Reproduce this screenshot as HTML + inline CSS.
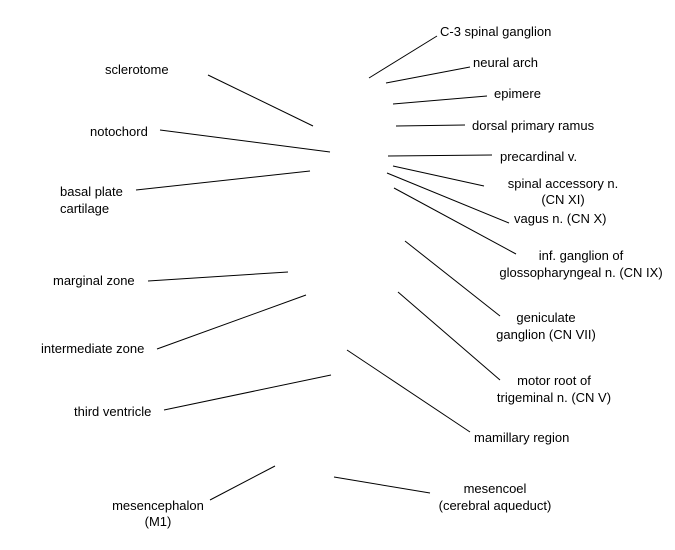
<!DOCTYPE html>
<html><head><meta charset="utf-8"><style>
html,body{margin:0;padding:0;background:#fff;}
svg{display:block;}
text{font-family:"Liberation Sans",Arial,sans-serif;font-size:13px;fill:#000;}
line{stroke:#000;stroke-width:1;}
</style></head><body>
<svg width="675" height="550" viewBox="0 0 675 550" xmlns="http://www.w3.org/2000/svg">
<line x1="437" y1="36" x2="369" y2="78"/>
<line x1="470" y1="67" x2="386" y2="83"/>
<line x1="487" y1="96" x2="393" y2="104"/>
<line x1="465" y1="125" x2="396" y2="126"/>
<line x1="492" y1="155" x2="388" y2="156"/>
<line x1="484" y1="186" x2="393" y2="166"/>
<line x1="509" y1="223" x2="387" y2="173"/>
<line x1="516" y1="254" x2="394" y2="188"/>
<line x1="500" y1="316" x2="405" y2="241"/>
<line x1="500" y1="380" x2="398" y2="292"/>
<line x1="470" y1="432" x2="347" y2="350"/>
<line x1="430" y1="493" x2="334" y2="477"/>
<line x1="208" y1="75" x2="313" y2="126"/>
<line x1="160" y1="130" x2="330" y2="152"/>
<line x1="136" y1="190" x2="310" y2="171"/>
<line x1="148" y1="281" x2="288" y2="272"/>
<line x1="157" y1="349" x2="306" y2="295"/>
<line x1="164" y1="410" x2="331" y2="375"/>
<line x1="210" y1="500" x2="275" y2="466"/>

<text x="440" y="36">C-3 spinal ganglion</text>
<text x="473" y="67">neural arch</text>
<text x="494" y="98">epimere</text>
<text x="472" y="130">dorsal primary ramus</text>
<text x="500" y="161">precardinal v.</text>
<text x="563" y="188" text-anchor="middle">spinal accessory n.</text>
<text x="563" y="204" text-anchor="middle">(CN XI)</text>
<text x="514" y="223">vagus n. (CN X)</text>
<text x="581" y="260" text-anchor="middle">inf. ganglion of</text>
<text x="581" y="277" text-anchor="middle">glossopharyngeal n. (CN IX)</text>
<text x="546" y="322" text-anchor="middle">geniculate</text>
<text x="546" y="339" text-anchor="middle">ganglion (CN VII)</text>
<text x="554" y="385" text-anchor="middle">motor root of</text>
<text x="554" y="402" text-anchor="middle">trigeminal n. (CN V)</text>
<text x="474" y="442">mamillary region</text>
<text x="495" y="493" text-anchor="middle">mesencoel</text>
<text x="495" y="510" text-anchor="middle">(cerebral aqueduct)</text>

<text x="105" y="74">sclerotome</text>
<text x="90" y="136">notochord</text>
<text x="60" y="196">basal plate</text>
<text x="60" y="213">cartilage</text>
<text x="53" y="285">marginal zone</text>
<text x="41" y="353">intermediate zone</text>
<text x="74" y="416">third ventricle</text>
<text x="158" y="510" text-anchor="middle">mesencephalon</text>
<text x="158" y="526" text-anchor="middle">(M1)</text>
</svg>
</body></html>
